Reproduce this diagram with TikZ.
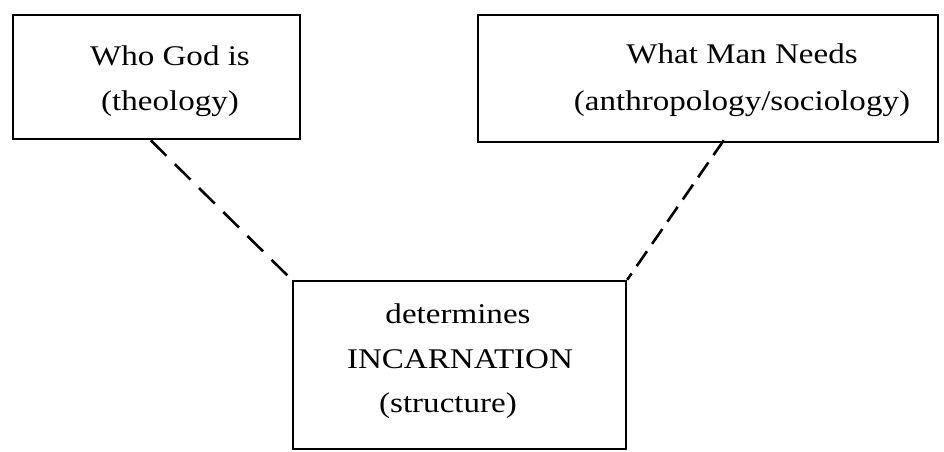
\documentclass[tikz,border=0pt]{standalone}
\usepackage{fontspec}
\setmainfont{Liberation Serif}[FakeStretch=1.16]
\usetikzlibrary{calc}
\begin{document}
\begin{tikzpicture}[x=1pt,y=-1pt,
  boxstyle/.style={draw=black, line width=2.5pt, inner sep=0pt, fill=none},
  labelstyle/.style={anchor=base, inner sep=0pt, font=\fontsize{28.5}{30}\selectfont, text=black},
  linkstyle/.style={draw=black, line width=2.6pt}]
\useasboundingbox (0,0) rectangle (944,451);
\node[boxstyle, minimum width=287pt, minimum height=124pt] (lbox) at (156.5,77) {};
\node[boxstyle, minimum width=460pt, minimum height=127pt] (rbox) at (708,78.5) {};
\node[boxstyle, minimum width=333pt, minimum height=168pt] (bbox) at (459.5,365) {};
\node[labelstyle] (l1) at (170,65) {Who God is};
\node[labelstyle] (l2) at (170,110) {(theology)};
\node[labelstyle] (r1) at (742,63) {What Man Needs};
\node[labelstyle] (r2) at (742,110) {(anthropology/sociology)};
\node[labelstyle] (b1) at (458,323) {determines};
\node[labelstyle] (b2) at (460,368) {INCARNATION};
\node[labelstyle] (b3) at (448,412) {(structure)};
\coordinate (lfoot) at ($(lbox.south west)+(139,0)$);
\coordinate (rfoot) at ($(rbox.south west)+(247,-3)$);
\draw[linkstyle, dash pattern=on 22pt off 12pt] (lfoot) -- (bbox.north west);
\draw[linkstyle, dash pattern=on 18pt off 9pt] (rfoot) -- (bbox.north east);
\end{tikzpicture}
\end{document}
